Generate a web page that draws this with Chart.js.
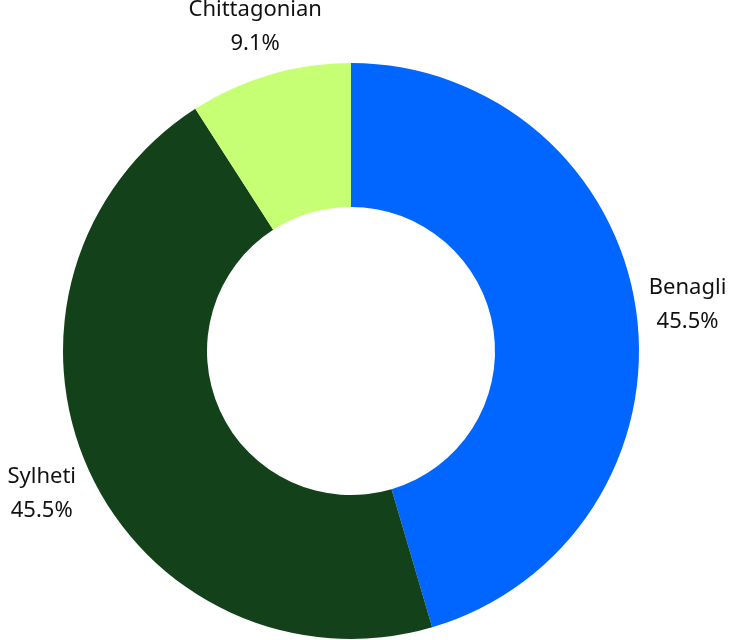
<!DOCTYPE html>
<html>
<head>
<meta charset="utf-8">
<script src="https://cdn.jsdelivr.net/npm/chart.js@4"></script>
<style>
  html, body { margin: 0; padding: 0; background: #fff; }
  #wrap { width: 729px; height: 640px; }
</style>
</head>
<body>
<div id="wrap"><canvas id="dialectChart" width="729" height="640"></canvas></div>
<script>
const categories = ['Benagli', 'Sylheti', 'Chittagonian'];
const shares = [45.5, 45.5, 9.1];
const sliceColors = ['#0066ff', '#13411a', '#c6ff74'];

// labels drawn outside each slice, name above, percent below
const outsideLabels = {
    id: 'outsideLabels',
    afterDatasetsDraw(chart) {
        const ctx = chart.ctx;
        const meta = chart.getDatasetMeta(0);
        const total = shares.reduce((a, b) => a + b, 0);
        ctx.save();
        ctx.font = '22px "Noto Sans"';
        ctx.fillStyle = '#111';
        ctx.textAlign = 'center';
        ctx.textBaseline = 'alphabetic';
        meta.data.forEach((arc, i) => {
            const mid = (arc.startAngle + arc.endAngle) / 2;
            const r = arc.outerRadius + 52;
            const x = arc.x + Math.cos(mid) * r;
            const y = arc.y + Math.sin(mid) * r;
            const pct = (shares[i] / total * 100).toFixed(1) + '%';
            ctx.fillText(categories[i], x, y - 9);
            ctx.fillText(pct, x, y + 25);
        });
        ctx.restore();
    }
};

const ctx = document.getElementById('dialectChart').getContext('2d');
const dialectChart = new Chart(ctx, {
    type: 'doughnut',
    data: {
        labels: categories,
        datasets: [{
            data: shares,
            backgroundColor: sliceColors,
            borderWidth: 0
        }]
    },
    options: {
        responsive: false,
        animation: false,
        cutout: '50%',
        layout: { padding: { left: 63, right: 90, top: 63, bottom: 1 } },
        plugins: {
            legend: { display: false },
            tooltip: { enabled: false }
        }
    },
    plugins: [outsideLabels]
});
</script>
</body>
</html>
